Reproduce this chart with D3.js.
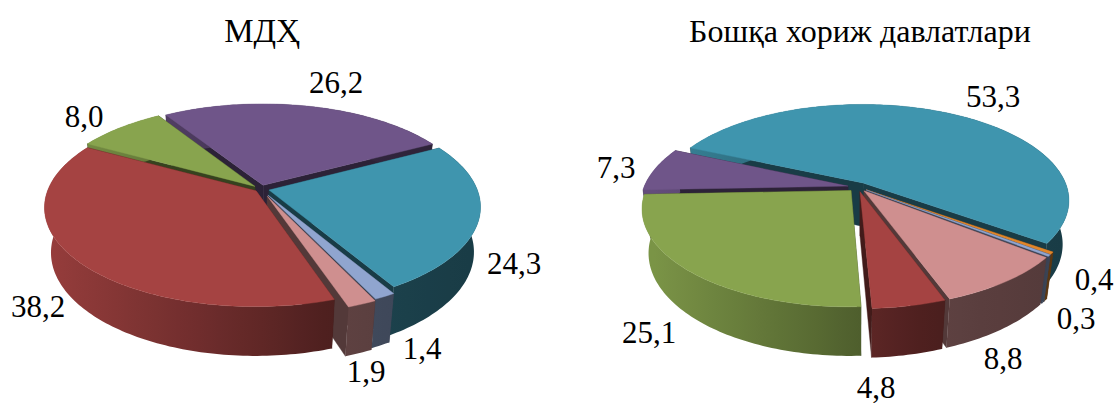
<!DOCTYPE html>
<html><head><meta charset="utf-8">
<style>html,body{margin:0;padding:0;background:#fff}svg{display:block}text{font-family:"Liberation Serif",serif;fill:#000}</style>
<script src="https://cdn.jsdelivr.net/npm/d3@7"></script></head>
<body><svg id="c" width="1120" height="403"></svg>
<script>
const leftTitle = "МДҲ";
const leftValues = [24.3, 1.4, 1.9, 38.2, 8.0, 26.2];
const leftLabels = ["24,3", "1,4", "1,9", "38,2", "8,0", "26,2"];
const leftColors = ["#3f95ae", "#90a5cf", "#cf8f8f", "#a54342", "#88a44e", "#6f5589"];
const leftExplode = [0.04, 0.07, 0.08, 0.03, 0.04, 0.04];
const leftOrder = [5, 4, 0, 1, 2, 3];

const rightTitle = "Бошқа хориж давлатлари";
const rightValues = [53.3, 0.4, 0.3, 8.8, 4.8, 25.1, 7.3];
const rightLabels = ["53,3", "0,4", "0,3", "8,8", "4,8", "25,1", "7,3"];
const rightColors = ["#3f95ae", "#e0862a", "#90a5cf", "#cf8f8f", "#a54342", "#88a44e", "#6f5589"];
const rightExplode = [0.05, 0.05, 0.05, 0.05, 0.05, 0.05, 0.05];
const rightOrder = [0, 6, 1, 2, 3, 4, 5];

const svg = d3.select("#c");
const defs = svg.append("defs");
const line = d3.line();
const M = 0.03;

function drawPie(o){
  const arcs = d3.pie().sort(null).startAngle(o.start).endAngle(o.start + 2*Math.PI)(o.values);
  const light = d3.scaleLinear().domain([-1,0,0.35,1]).range([0.9,0.58,0.46,0.40]);
  const g = svg.append("g");
  arcs.forEach((a,i)=>{
    a.mid = (a.startAngle+a.endAngle)/2;
    a.ox = o.explode[i]*Math.sin(a.mid);
    a.ov = -o.explode[i]*Math.cos(a.mid);
    a.color = o.colors[i];
    const id = o.id+"g"+i;
    const lg = defs.append("linearGradient").attr("id",id).attr("gradientUnits","userSpaceOnUse")
      .attr("x1",o.cx-o.R).attr("x2",o.cx+o.R).attr("y1",0).attr("y2",0);
    d3.range(0,21).forEach(s=>{
      const t=-1+s/10, c=d3.rgb(a.color), f=light(t);
      lg.append("stop").attr("offset",(s/20)).attr("stop-color",d3.rgb(c.r*f,c.g*f,c.b*f).formatHex());
    });
    a.grad="url(#"+id+")";
  });
  const P=(a,th,r,z)=>{
    const X=a.ox+r*Math.sin(th), V=a.ov-r*Math.cos(th), w=1-o.K*V+M*z;
    return [o.cx+o.R*X/w, o.cy+(o.S*V+o.H*z)/w];
  };
  const samples=a=>{const n=Math.max(2,Math.ceil((a.endAngle-a.startAngle)/0.02));
    return d3.range(n+1).map(i=>a.startAngle+(a.endAngle-a.startAngle)*i/n);};
  o.order.map(i=>arcs[i]).forEach(a=>{
    const col=d3.rgb(a.color), wall=d3.rgb(col.r*.4,col.g*.4,col.b*.4).formatHex();
    const ths=samples(a);
    [a.startAngle,a.endAngle].forEach(th=>{
      g.append("path").attr("d",line([P(a,0,0,0),P(a,th,1,0),P(a,th,1,1),P(a,0,0,1)])+"Z")
       .attr("fill",wall).attr("stroke",wall).attr("stroke-width",.4);
    });
    g.append("path").attr("d",line(ths.map(t=>P(a,t,1,0)).concat(ths.slice().reverse().map(t=>P(a,t,1,1))))+"Z")
     .attr("fill",a.grad);
    g.append("path").attr("d",line([P(a,0,0,0)].concat(ths.map(t=>P(a,t,1,0))))+"Z")
     .attr("fill",a.color).attr("stroke",a.color).attr("stroke-width",.4);
  });
  svg.append("text").attr("x",o.titleX).attr("y",o.titleY).attr("text-anchor","middle")
    .attr("font-size",o.titleSize).text(o.title);
  o.labels.forEach((t,i)=>{
    svg.append("text").attr("x",o.labelPos[i][0]).attr("y",o.labelPos[i][1]+10).attr("text-anchor","middle")
      .attr("font-size",31).text(t);
  });
}
drawPie({id:"l",title:leftTitle,values:leftValues,labels:leftLabels,colors:leftColors,explode:leftExplode,order:leftOrder,
  cx:261,cy:189,R:208,S:96,H:46,K:0.165,start:62*Math.PI/180,titleX:262,titleY:42,titleSize:33,
  labelPos:[[514,264],[422,349],[366,372],[38,307],[84,117],[336,83]]});
drawPie({id:"r",title:rightTitle,values:rightValues,labels:rightLabels,colors:rightColors,explode:rightExplode,order:rightOrder,
  cx:858,cy:187,R:204,S:94,H:45,K:0.18,start:294*Math.PI/180,titleX:860,titleY:42,titleSize:32,
  labelPos:[[993,97],[1094,280],[1076,319],[1003,359],[876,388],[649,333],[616,168]]});
</script></body></html>
